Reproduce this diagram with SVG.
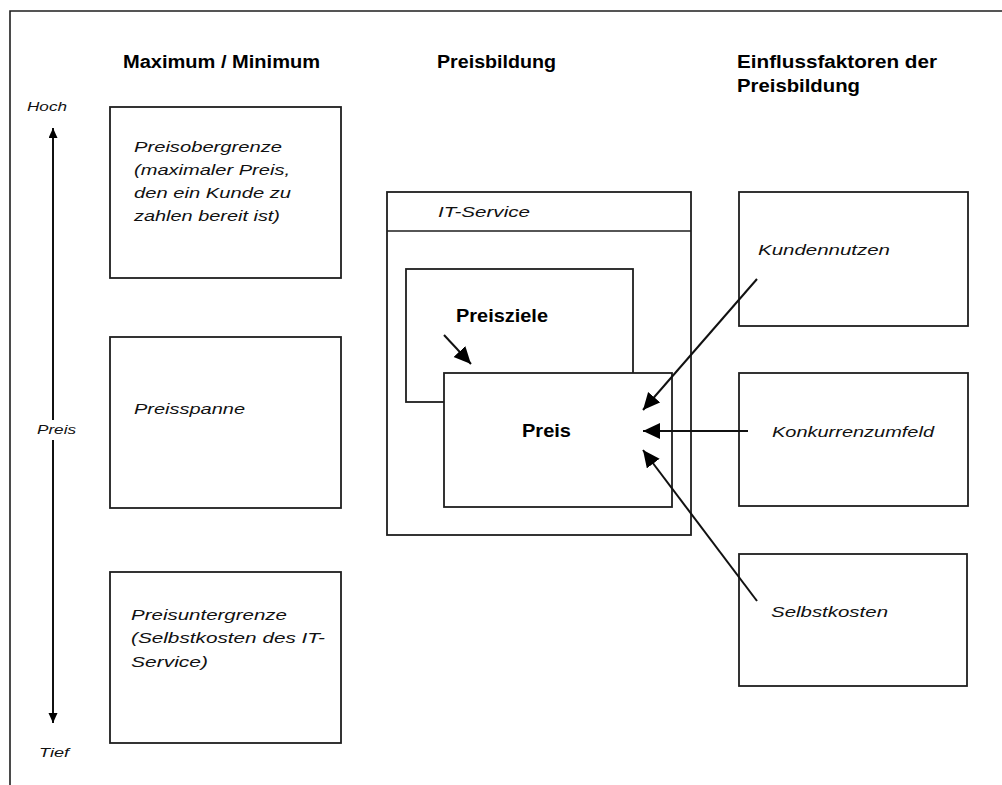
<svg xmlns="http://www.w3.org/2000/svg" width="1002" height="785" viewBox="0 0 1002 785">
  <style>
    .box { fill: #ffffff; stroke: #1e1e1e; stroke-width: 1.8; }
    .frame { fill: none; stroke: #1e1e1e; stroke-width: 1.6; }
    .conn { fill: none; stroke: #111111; stroke-width: 2; }
    .head { font-family: "Liberation Sans", Arial, sans-serif; font-weight: bold; font-size: 18px; fill: #000000; }
    .lbl { font-family: "Liberation Sans", Arial, sans-serif; font-style: italic; font-size: 15.5px; fill: #111111; }
    .axis { font-family: "Liberation Sans", Arial, sans-serif; font-style: italic; font-size: 13px; fill: #111111; }
    .bold { font-family: "Liberation Sans", Arial, sans-serif; font-weight: bold; font-size: 18px; fill: #000000; }
  </style>
  <defs>
    <marker id="arrow" markerUnits="userSpaceOnUse" markerWidth="20" markerHeight="18" refX="17" refY="8" orient="auto">
      <path d="M0,0 L17,8 L0,16 Z" fill="#000000"/>
    </marker>
    <marker id="arrow-small" markerUnits="userSpaceOnUse" markerWidth="12" markerHeight="10" refX="10" refY="4.5" orient="auto">
      <path d="M0,0 L10,4.5 L0,9 Z" fill="#000000"/>
    </marker>
  </defs>

  <rect width="1002" height="785" fill="#ffffff"/>

  <!-- outer frame: top and left edge -->
  <path class="frame" d="M10,785 L10,11 L1002,11"/>

  <!-- column headings -->
  <g id="headings">
    <text class="head" x="123" y="68" textLength="197" lengthAdjust="spacingAndGlyphs">Maximum / Minimum</text>
    <text class="head" x="437" y="68" textLength="119" lengthAdjust="spacingAndGlyphs">Preisbildung</text>
    <text class="head" x="737" y="68" textLength="200" lengthAdjust="spacingAndGlyphs">Einflussfaktoren der</text>
    <text class="head" x="737" y="92" textLength="123" lengthAdjust="spacingAndGlyphs">Preisbildung</text>
  </g>

  <!-- price axis -->
  <g id="axis">
    <text class="axis" x="27" y="111" textLength="40" lengthAdjust="spacingAndGlyphs">Hoch</text>
    <text class="axis" x="37" y="434" textLength="39" lengthAdjust="spacingAndGlyphs">Preis</text>
    <text class="axis" x="39" y="757" textLength="30" lengthAdjust="spacingAndGlyphs">Tief</text>
  </g>

  <!-- left column -->
  <g id="preisobergrenze">
    <rect class="box" x="110" y="107" width="231" height="171"/>
    <text class="lbl" x="134" y="152" textLength="148" lengthAdjust="spacingAndGlyphs">Preisobergrenze</text>
    <text class="lbl" x="134" y="175" textLength="156" lengthAdjust="spacingAndGlyphs">(maximaler Preis,</text>
    <text class="lbl" x="134" y="198" textLength="157" lengthAdjust="spacingAndGlyphs">den ein Kunde zu</text>
    <text class="lbl" x="134" y="221" textLength="146" lengthAdjust="spacingAndGlyphs">zahlen bereit ist)</text>
  </g>
  <g id="preisspanne">
    <rect class="box" x="110" y="337" width="231" height="171"/>
    <text class="lbl" x="134" y="414" textLength="111" lengthAdjust="spacingAndGlyphs">Preisspanne</text>
  </g>
  <g id="preisuntergrenze">
    <rect class="box" x="110" y="572" width="231" height="171"/>
    <text class="lbl" x="131" y="620" textLength="156" lengthAdjust="spacingAndGlyphs">Preisuntergrenze</text>
    <text class="lbl" x="131" y="643" textLength="194" lengthAdjust="spacingAndGlyphs">(Selbstkosten des IT-</text>
    <text class="lbl" x="131" y="667" textLength="77" lengthAdjust="spacingAndGlyphs">Service)</text>
  </g>

  <!-- middle column -->
  <g id="it-service">
    <rect class="box" x="387" y="192" width="304" height="343"/>
    <line class="frame" x1="387" y1="231" x2="691" y2="231"/>
    <text class="lbl" x="438" y="217" textLength="92" lengthAdjust="spacingAndGlyphs">IT-Service</text>
  </g>
  <g id="preisziele">
    <rect class="box" x="406" y="269" width="227" height="133"/>
    <text class="bold" x="456" y="322" textLength="92" lengthAdjust="spacingAndGlyphs">Preisziele</text>
  </g>
  <g id="preis">
    <rect class="box" x="444" y="373" width="228" height="134"/>
    <text class="bold" x="522" y="437" textLength="49" lengthAdjust="spacingAndGlyphs">Preis</text>
  </g>

  <!-- right column -->
  <g id="kundennutzen">
    <rect class="box" x="739" y="192" width="229" height="134"/>
    <text class="lbl" x="758" y="255" textLength="132" lengthAdjust="spacingAndGlyphs">Kundennutzen</text>
  </g>
  <g id="konkurrenzumfeld">
    <rect class="box" x="739" y="373" width="229" height="133"/>
    <text class="lbl" x="772" y="437" textLength="162" lengthAdjust="spacingAndGlyphs">Konkurrenzumfeld</text>
  </g>
  <g id="selbstkosten">
    <rect class="box" x="739" y="554" width="228" height="132"/>
    <text class="lbl" x="771" y="617" textLength="117" lengthAdjust="spacingAndGlyphs">Selbstkosten</text>
  </g>

  <!-- connectors -->
  <g id="connectors">
    <line class="conn" x1="53" y1="420" x2="53" y2="128" marker-end="url(#arrow-small)"/>
    <line class="conn" x1="53" y1="440" x2="53" y2="723" marker-end="url(#arrow-small)"/>
    <line class="conn" x1="444" y1="335" x2="471" y2="364" marker-end="url(#arrow)"/>
    <line class="conn" x1="757" y1="279" x2="643" y2="410" marker-end="url(#arrow)"/>
    <line class="conn" x1="748" y1="431" x2="643" y2="431" marker-end="url(#arrow)"/>
    <line class="conn" x1="757" y1="601" x2="643" y2="450" marker-end="url(#arrow)"/>
  </g>
</svg>
